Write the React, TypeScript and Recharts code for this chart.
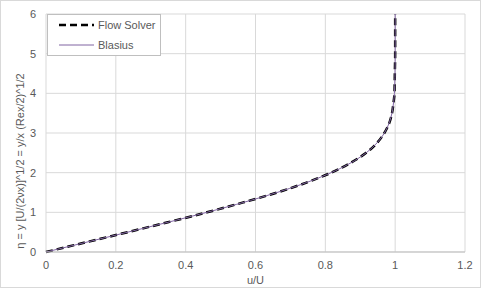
import React from 'react';
import {
  LineChart,
  Line,
  XAxis,
  YAxis,
  CartesianGrid,
} from 'recharts';

// Flow solver output (eta, u/U)
const solverEta = [0, 0.25, 0.5, 0.75, 1.0, 1.25, 1.5, 1.75, 2.0, 2.25, 2.5, 2.75, 3.0, 3.25, 3.5, 3.75, 4.0, 4.5, 5.0, 5.5, 6.0];
const solverU = [0, 0.117, 0.234, 0.349, 0.461, 0.565, 0.662, 0.746, 0.817, 0.873, 0.917, 0.948, 0.969, 0.983, 0.991, 0.995, 0.998, 0.999, 1.0, 1.0, 1.0];

// Blasius similarity solution
const blasiusEta = [0, 0.2, 0.4, 0.6, 0.8, 1.0, 1.2, 1.4, 1.6, 1.8, 2.0, 2.2, 2.4, 2.6, 2.8, 3.0, 3.2, 3.4, 3.6, 3.8, 4.0, 4.2, 4.4, 4.6, 4.8, 5.0, 5.5, 6.0];
const blasiusU = [0, 0.0939, 0.1876, 0.2806, 0.372, 0.4606, 0.5453, 0.6244, 0.6967, 0.761, 0.8167, 0.8633, 0.9011, 0.9306, 0.9529, 0.9691, 0.9804, 0.988, 0.9929, 0.9959, 0.9978, 0.9988, 0.9994, 0.9997, 0.9999, 1.0, 1.0, 1.0];

const xTicks = [0, 0.2, 0.4, 0.6, 0.8, 1, 1.2];
const yTicks = [0, 1, 2, 3, 4, 5, 6];

const solverData = solverEta.map((eta, i) => ({ u: solverU[i], eta }));
const blasiusData = blasiusEta.map((eta, i) => ({ u: blasiusU[i], eta }));

const FONT = '"Liberation Sans", Arial, sans-serif';
const TEXT = '#595959';
const Y_TITLE = 'η = y [U/(2νx)]^1/2 = y/x (Rex/2)^1/2';
const X_TITLE = 'u/U';

// rotated axis title, sits a bit below the plot's middle like in Excel
const YTitle = (props: any) => {
  const vb = props.viewBox || { x: 0, y: 0, width: 0, height: 0 };
  const cx = vb.x + 19;
  const cy = vb.y + vb.height / 2 + 28;
  return (
    <text
      transform={`translate(${cx},${cy}) rotate(-90)`}
      textAnchor="middle"
      dominantBaseline="central"
      fill={TEXT}
      fontSize={11}
      fontFamily={FONT}
    >
      {Y_TITLE}
    </text>
  );
};

const XTitle = (props: any) => {
  const vb = props.viewBox || { x: 0, y: 0, width: 0, height: 0 };
  return (
    <text
      x={vb.x + vb.width / 2}
      y={vb.y + 27.5}
      textAnchor="middle"
      dominantBaseline="central"
      fill={TEXT}
      fontSize={11}
      fontFamily={FONT}
    >
      {X_TITLE}
    </text>
  );
};

// legend box sits over the top-left corner of the plot
const ChartLegend = () => (
  <div
    style={{
      position: 'absolute',
      left: 46,
      top: 13,
      width: 114,
      height: 42,
      border: '1px solid #bfbfbf',
      background: '#fff',
      boxSizing: 'border-box',
    }}
  >
    <svg width={112} height={40} style={{ display: 'block' }}>
      <line x1={11} y1={10} x2={46} y2={10} stroke="#000" strokeWidth={2.5} strokeDasharray="7 4" />
      <text x={50} y={14} fill={TEXT} fontSize={11} fontFamily={FONT}>Flow Solver</text>
      <line x1={11} y1={30} x2={46} y2={30} stroke="#8064a2" strokeWidth={1} />
      <text x={50} y={34} fill={TEXT} fontSize={11} fontFamily={FONT}>Blasius</text>
    </svg>
  </div>
);

export default function App() {
  return (
    <div
      style={{
        width: 481,
        height: 288,
        border: '1px solid #d9d9d9',
        boxSizing: 'border-box',
        background: '#fff',
        position: 'relative',
      }}
    >
      <style>{'body{margin:0}'}</style>
      <LineChart width={479} height={286} margin={{ top: 13, right: 15, bottom: 0, left: 0 }}>
        <CartesianGrid stroke="#d9d9d9" />
        <XAxis
          type="number"
          dataKey="u"
          domain={[0, 1.2]}
          ticks={xTicks}
          height={35}
          tickSize={0}
          tickMargin={9}
          stroke="#bfbfbf"
          tick={{ fill: TEXT, fontSize: 11, fontFamily: FONT }}
          allowDuplicatedCategory={false}
          label={{ content: XTitle }}
        />
        <YAxis
          type="number"
          dataKey="eta"
          domain={[0, 6]}
          ticks={yTicks}
          width={45}
          tickSize={0}
          tickMargin={10}
          axisLine={false}
          tick={{ fill: TEXT, fontSize: 11, fontFamily: FONT }}
          label={{ content: YTitle }}
        />
        <Line
          data={solverData}
          dataKey="eta"
          name="Flow Solver"
          type="monotoneY"
          stroke="#000"
          strokeWidth={2.5}
          strokeDasharray="7 4"
          dot={false}
          isAnimationActive={false}
        />
        <Line
          data={blasiusData}
          dataKey="eta"
          name="Blasius"
          type="monotoneY"
          stroke="#8064a2"
          strokeWidth={1}
          dot={false}
          isAnimationActive={false}
        />
      </LineChart>
      <ChartLegend />
    </div>
  );
}
